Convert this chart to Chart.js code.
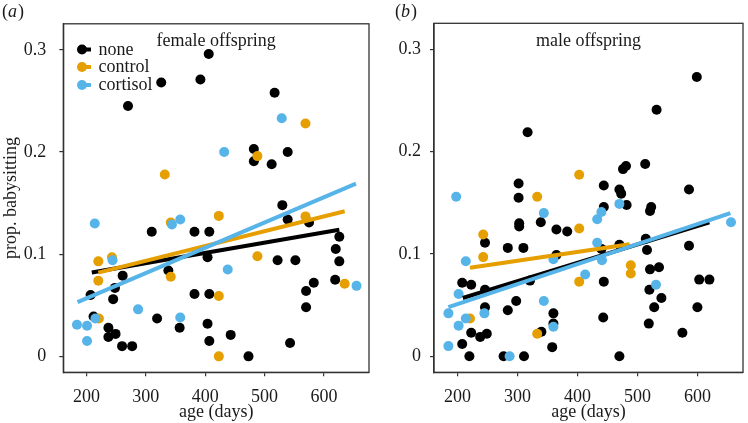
<!DOCTYPE html>
<html><head><meta charset="utf-8">
<script src="https://cdn.jsdelivr.net/npm/chart.js@4.4.0/dist/chart.umd.min.js"></script>
<style>
html,body{margin:0;padding:0;background:#fff;}
#wrap{position:relative;width:748px;height:423px;overflow:hidden;}
canvas{position:absolute;top:0;}
</style></head><body>
<div id="wrap"><canvas id="ca" width="374" height="423" style="left:0"></canvas><canvas id="cb" width="374" height="423" style="left:374px"></canvas></div>
<script>
// ---- data ----
const groups = ['none', 'control', 'cortisol'];
const groupColors = ['#000000', '#E69F00', '#56B4E9'];
const xTicks = [200, 300, 400, 500, 600];
const yTicks = [0, 0.1, 0.2, 0.3];
const yTickLabels = ['0', '0.1', '0.2', '0.3'];
const panelTitles = ['female offspring', 'male offspring'];
const panelLetters = ['a', 'b'];

// female offspring
const femaleNoneAge = [270,326,392,406,517,482,482,512,539,530,539,575,626,620,626,619,583,570,570,543,522,552,473,443,404,310,382,407,382,407,404,407,338,261,248,245,207,212,237,237,249,260,277,319,357];
const femaleNoneProp = [0.245,0.268,0.271,0.296,0.258,0.203,0.191,0.188,0.200,0.148,0.134,0.131,0.117,0.105,0.093,0.075,0.072,0.064,0.048,0.013,0.094,0.094,0,0.021,0.097,0.122,0.122,0.122,0.061,0.061,0.032,0.015,0.084,0.079,0.067,0.056,0.060,0.039,0.028,0.019,0.022,0.010,0.010,0.037,0.028];
const femaleControlAge = [332,488,569,423,569,342,488,635,342,220,243,220,221,423,423];
const femaleControlProp = [0.178,0.196,0.228,0.1375,0.137,0.131,0.098,0.071,0.078,0.093,0.097,0.074,0.037,0.059,0];
const femaleCortisolAge = [529,432,214,344,358,244,438,655,184,201,201,215,287,358];
const femaleCortisolProp = [0.233,0.200,0.130,0.129,0.134,0.094,0.085,0.069,0.031,0.030,0.015,0.037,0.046,0.038];
const femaleFitNoneAge = [209, 626], femaleFitNoneProp = [0.082, 0.124];
const femaleFitControlAge = [220, 635], femaleFitControlProp = [0.082, 0.142];
const femaleFitCortisolAge = [185, 654], femaleFitCortisolProp = [0.053, 0.169];

// male offspring
const maleNoneAge = [302,302,317,444,470,473,476,481,513,532,599,586,444,482,523,521,303,303,339,365,383,246,284,310,365,440,470,514,516,586,521,536,444,321,208,223,603,620,520,246,540,298,246,528,600,284,360,443,360,519,340,223,249,238,575,208,358,220,277,311,470];
const maleNoneProp = [0.169,0.155,0.219,0.167,0.163,0.159,0.183,0.186,0.188,0.241,0.273,0.163,0.146,0.148,0.146,0.142,0.130,0.127,0.131,0.124,0.122,0.111,0.106,0.106,0.099,0.105,0.109,0.115,0.104,0.108,0.085,0.087,0.073,0.074,0.072,0.070,0.075,0.075,0.065,0.065,0.057,0.054,0.048,0.048,0.048,0.045,0.042,0.038,0.032,0.032,0.024,0.023,0.022,0.019,0.023,0.012,0.009,0,0,0,0];
const maleControlAge = [333,403,243,403,243,489,489,403,221,333];
const maleControlProp = [0.156,0.1775,0.119,0.125,0.097,0.089,0.081,0.073,0.037,0.022];
const maleCortisolAge = [198,470,440,433,344,433,360,441,656,214,413,531,202,344,185,245,214,360,202,185,287];
const maleCortisolProp = [0.156,0.149,0.141,0.134,0.140,0.111,0.095,0.094,0.131,0.093,0.080,0.070,0.061,0.054,0.042,0.042,0.037,0.029,0.030,0.010,0];
const maleFitNoneAge = [209, 620], maleFitNoneProp = [0.057, 0.131];
const maleFitControlAge = [221, 487], maleFitControlProp = [0.0866, 0.1095];
const maleFitCortisolAge = [185, 655], maleFitCortisolProp = [0.048, 0.140];

// ---- drawing ----
const FONT = "'Liberation Serif', 'Times New Roman', serif";
const TXT = '#1a1a1a';
const BORDER = '#333333';
const pts = (xs, ys) => xs.map((x, i) => ({x: x, y: ys[i]}));

function boxPlugin(panel) {
  return {
    id: 'box' + panel,
    beforeDatasetsDraw(chart) {
      const a = chart.chartArea, ctx = chart.ctx;
      ctx.save();
      ctx.strokeStyle = BORDER; ctx.lineWidth = 1.3;
      ctx.strokeRect(a.left, a.top, a.right - a.left, a.bottom - a.top);
      ctx.restore();
    },
    afterDraw(chart) {
      const a = chart.chartArea, ctx = chart.ctx;
      ctx.save();
      ctx.fillStyle = TXT;
      ctx.font = '18px ' + FONT;
      ctx.textAlign = 'center'; ctx.textBaseline = 'alphabetic';
      ctx.fillText(panelTitles[panel], (a.left + a.right) / 2, 46);
      // panel letter "(a)"
      ctx.textAlign = 'left';
      const lx = panel === 0 ? 2 : 21;
      ctx.font = '18px ' + FONT;
      ctx.fillText('(', lx, 17);
      let w = ctx.measureText('(').width;
      ctx.font = 'italic 18px ' + FONT;
      ctx.fillText(panelLetters[panel], lx + w, 17);
      w += ctx.measureText(panelLetters[panel]).width;
      ctx.font = '18px ' + FONT;
      ctx.fillText(')', lx + w + 1, 17);
      if (panel === 0) {
        const rows = [49.5, 67, 85];
        groups.forEach((g, i) => {
          ctx.strokeStyle = groupColors[i]; ctx.lineWidth = 4;
          ctx.beginPath(); ctx.moveTo(78, rows[i]); ctx.lineTo(91, rows[i]); ctx.stroke();
          ctx.fillStyle = groupColors[i];
          ctx.beginPath(); ctx.arc(82, rows[i], 5, 0, Math.PI * 2); ctx.fill();
          ctx.fillStyle = TXT; ctx.font = '18px ' + FONT;
          ctx.textBaseline = 'middle';
          ctx.fillText(g, 98.5, rows[i] + 0.5);
        });
      }
      ctx.restore();
    }
  };
}

function makeChart(id, panel, sets, fits, axisW, padRight) {
  const datasets = [];
  sets.forEach((s, i) => {
    datasets.push({label: groups[i], data: pts(s[0], s[1]), backgroundColor: groupColors[i],
      borderWidth: 0, pointRadius: 5, pointHoverRadius: 5, order: 6 - i});
  });
  fits.forEach((f, i) => {
    datasets.push({label: groups[i] + ' fit', data: pts(f[0], f[1]), showLine: true,
      borderColor: groupColors[i], borderWidth: 4, pointRadius: 0, fill: false, order: 3 - i,
      borderCapStyle: 'butt'});
  });
  return new Chart(document.getElementById(id), {
    type: 'scatter',
    data: {datasets: datasets},
    plugins: [boxPlugin(panel)],
    options: {
      responsive: false, animation: false, devicePixelRatio: 1,
      layout: {padding: {top: 23.3, right: padRight, left: 0, bottom: 0}},
      plugins: {legend: {display: false}, tooltip: {enabled: false}},
      scales: {
        x: {
          type: 'linear', min: 161, max: 676,
          afterBuildTicks: s => { s.ticks = xTicks.map(v => ({value: v})); },
          afterFit: s => { s.height = 50.7; },
          grid: {drawOnChartArea: false, drawTicks: true, tickLength: 4, color: BORDER, lineWidth: 1.2},
          border: {display: true, color: BORDER, width: 1.3},
          ticks: {font: {family: FONT, size: 18}, color: TXT, padding: 10, maxRotation: 0,
            callback: v => String(v)},
          title: {display: true, text: 'age (days)', font: {family: FONT, size: 18}, color: TXT,
            padding: {top: 0, bottom: 0}}
        },
        y: {
          type: 'linear', min: -0.0156, max: 0.3255,
          afterBuildTicks: s => { s.ticks = yTicks.map(v => ({value: v})); },
          afterFit: s => { s.width = axisW; },
          grid: {drawOnChartArea: false, drawTicks: true, tickLength: 4, color: BORDER, lineWidth: 1.2},
          border: {display: true, color: BORDER, width: 1.3},
          ticks: {font: {family: FONT, size: 18}, color: TXT, padding: panel === 0 ? 13 : 9,
            callback: v => yTickLabels[yTicks.indexOf(v)] ?? String(v)},
          title: {display: panel === 0, text: 'prop. babysitting', font: {family: FONT, size: 18},
            color: TXT, padding: {top: 0, bottom: 0}}
        }
      }
    }
  });
}

makeChart('ca', 0,
  [[femaleNoneAge, femaleNoneProp], [femaleControlAge, femaleControlProp], [femaleCortisolAge, femaleCortisolProp]],
  [[femaleFitNoneAge, femaleFitNoneProp], [femaleFitControlAge, femaleFitControlProp], [femaleFitCortisolAge, femaleFitCortisolProp]],
  63.3, 1.7);
makeChart('cb', 1,
  [[maleNoneAge, maleNoneProp], [maleControlAge, maleControlProp], [maleCortisolAge, maleCortisolProp]],
  [[maleFitNoneAge, maleFitNoneProp], [maleFitControlAge, maleFitControlProp], [maleFitCortisolAge, maleFitCortisolProp]],
  60, 3);
</script>
</body></html>
